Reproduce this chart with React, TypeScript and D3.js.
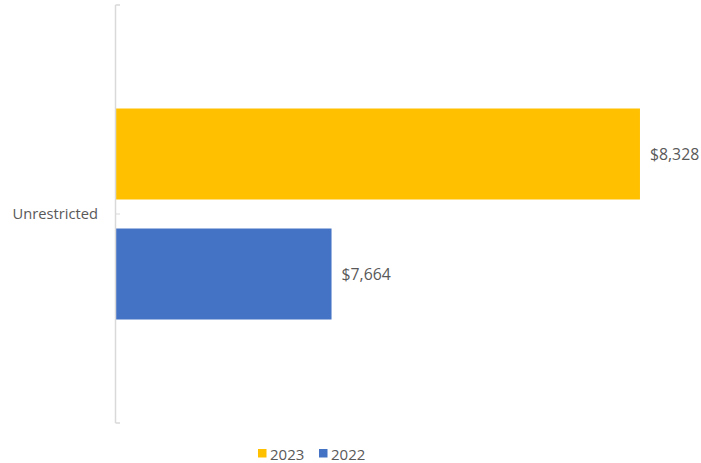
import React from "react";
import * as d3 from "d3";

const categories = ["Unrestricted"];
const seriesNames = ["2023", "2022"];
const values2023 = [8328];
const values2022 = [7664];
const seriesColors = ["#FFC000", "#4472C4"];
const axisMin = 7200;
const axisMax = 8400;

const W = 701;
const H = 463;
const FONT = "'Segoe UI', 'Open Sans', 'Noto Sans', sans-serif";

export default function App() {
  const seriesValues = [values2023, values2022];
  const x = d3.scaleLinear().domain([axisMin, axisMax]).range([116, 673.4]);
  const yCat = d3.scaleBand<string>().domain(categories).range([5, 423]).padding(0);
  const ySer = d3
    .scaleBand<string>()
    .domain(seriesNames)
    .range([0, yCat.bandwidth()])
    .paddingInner(0.2417)
    .paddingOuter(0.8625);
  const fmt = (v: number) => "$" + d3.format(",")(v);

  return (
    <svg
      width={W}
      height={H}
      style={{ position: "absolute", left: 0, top: 0, background: "#fff" }}
      fontFamily={FONT}
    >
      {categories.map((c, ci) => (
        <g key={c}>
          {seriesNames.map((s, si) => {
            const v = seriesValues[si][ci];
            const y0 = (yCat(c) as number) + (ySer(s) as number);
            const bw = ySer.bandwidth();
            return (
              <g key={s}>
                <rect
                  x={x(axisMin)}
                  y={y0}
                  width={x(v) - x(axisMin)}
                  height={bw}
                  fill={seriesColors[si]}
                />
                <text
                  x={x(v) + 10}
                  y={y0 + bw / 2}
                  dominantBaseline="central"
                  fontSize={15.8}
                  fill="#595959"
                >
                  {fmt(v)}
                </text>
              </g>
            );
          })}
          <text
            x={98}
            y={(yCat(c) as number) + yCat.bandwidth() / 2 - 1}
            textAnchor="end"
            dominantBaseline="central"
            fontSize={14.7}
            fill="#595959"
          >
            {c}
          </text>
        </g>
      ))}
      {/* category axis */}
      <line x1={115.5} x2={115.5} y1={5} y2={423} stroke="#d9d9d9" strokeWidth={1.5} />
      {[5, ...categories.map((c) => (yCat(c) as number) + yCat.bandwidth())].map((t, i) => (
        <line key={i} x1={115.5} x2={120} y1={t} y2={t} stroke="#d9d9d9" strokeWidth={1.5} />
      ))}
      <line x1={115.5} x2={120} y1={214} y2={214} stroke="#d9d9d9" strokeWidth={1} />
      {/* legend */}
      {seriesNames.map((s, si) => {
        const lx = 258 + si * 61;
        return (
          <g key={s}>
            <rect x={lx} y={449} width={8.5} height={8.5} fill={seriesColors[si]} />
            <text
              x={lx + 12}
              y={453.5}
              dominantBaseline="central"
              fontSize={15}
              fill="#595959"
            >
              {s}
            </text>
          </g>
        );
      })}
    </svg>
  );
}
